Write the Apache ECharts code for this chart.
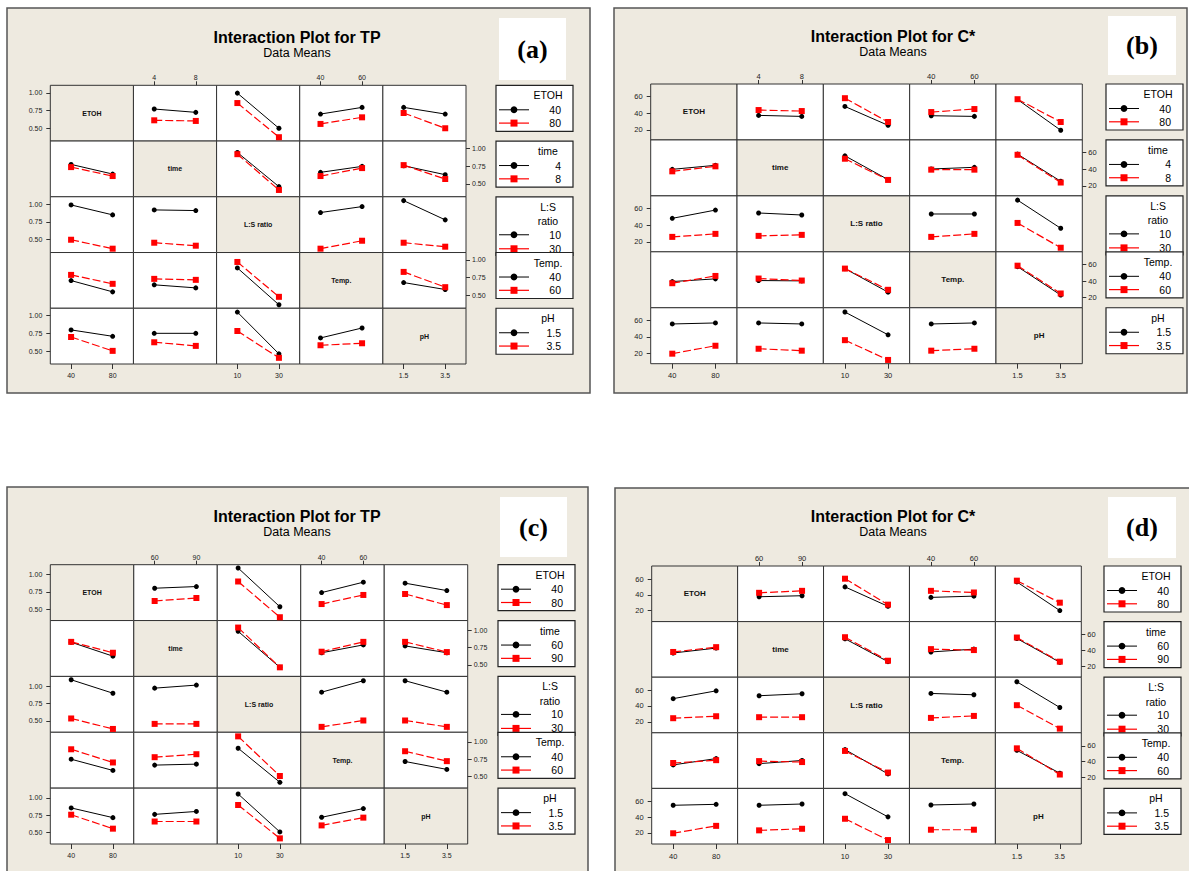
<!DOCTYPE html>
<html><head><meta charset="utf-8">
<script src="https://cdn.jsdelivr.net/npm/echarts@6/dist/echarts.min.js"></script>
<style>html,body{margin:0;padding:0;background:#fff}#c{width:1189px;height:871px}</style>
</head><body><div id="c"></div>
<script>
// ---------- factors, levels, ticks ----------
const factorNames = ['ETOH', 'time', 'L:S ratio', 'Temp.', 'pH'];
const legendTitles = [['ETOH'], ['time'], ['L:S', 'ratio'], ['Temp.'], ['pH']];
const levelsEtoh = ['40', '80'];
const levelsTimeAB = ['4', '8'];
const levelsTimeCD = ['60', '90'];
const levelsLS = ['10', '30'];
const levelsTemp = ['40', '60'];
const levelsPH = ['1.5', '3.5'];
const ticksTP = [0.5, 0.75, 1.0];
const ticksC = [20, 40, 60];

// ---------- data: each row = trace factor; entries follow column order (diagonal skipped)
// each entry: [[black level1 @x1, @x2], [red level2 @x1, @x2]]
// (a) TP, time 4/8
const A_ETOH = [[[0.771, 0.724], [0.612, 0.603]], [[0.995, 0.500], [0.855, 0.374]], [[0.700, 0.794], [0.561, 0.654]], [[0.794, 0.700], [0.715, 0.500]]];
const A_time = [[[0.776, 0.640], [0.738, 0.612]], [[0.944, 0.463], [0.920, 0.416]], [[0.664, 0.748], [0.612, 0.724]], [[0.757, 0.631], [0.766, 0.570]]];
const A_LS   = [[[0.990, 0.850], [0.500, 0.374]], [[0.920, 0.911], [0.458, 0.416]], [[0.883, 0.967], [0.374, 0.486]], [[1.051, 0.780], [0.458, 0.402]]];
const A_Temp = [[[0.710, 0.551], [0.790, 0.664]], [[0.650, 0.607], [0.734, 0.720]], [[0.888, 0.369], [0.972, 0.481]], [[0.682, 0.584], [0.832, 0.617]]];
const A_pH   = [[[0.800, 0.710], [0.700, 0.505]], [[0.752, 0.752], [0.626, 0.575]], [[1.051, 0.463], [0.785, 0.407]], [[0.687, 0.827], [0.584, 0.612]]];
// (b) C*, time 4/8
const B_ETOH = [[[37.4, 36.2], [43.8, 42.6]], [[48.1, 25.5], [58.0, 29.5]], [[37.0, 36.2], [41.4, 45.0]], [[56.4, 19.6], [56.8, 29.5]]];
const B_time = [[[39.8, 44.6], [37.4, 43.4]], [[56.0, 27.5], [52.5, 27.1]], [[40.2, 42.2], [39.4, 39.4]], [[58.0, 25.5], [57.2, 24.0]]];
const B_LS   = [[[48.1, 58.0], [25.9, 29.5]], [[54.5, 52.1], [27.1, 28.3]], [[53.3, 53.3], [25.9, 29.5]], [[69.9, 36.2], [42.6, 12.9]]];
const B_Temp = [[[39.4, 42.6], [37.4, 46.1]], [[40.6, 40.2], [43.0, 40.6]], [[54.9, 26.7], [54.9, 29.5]], [[57.2, 23.2], [58.4, 25.1]]];
const B_pH   = [[[55.6, 56.8], [20.0, 29.5]], [[56.8, 55.6], [25.9, 23.6]], [[69.9, 42.6], [36.2, 12.5]], [[55.6, 56.8], [23.6, 25.9]]];
// (c) TP, time 60/90
const C_ETOH = [[[0.801, 0.825], [0.617, 0.660]], [[1.092, 0.534], [0.898, 0.383]], [[0.738, 0.888], [0.573, 0.704]], [[0.874, 0.767], [0.718, 0.558]]];
const C_time = [[[0.828, 0.627], [0.833, 0.676]], [[0.985, 0.466], [1.039, 0.466]], [[0.676, 0.789], [0.691, 0.833]], [[0.775, 0.676], [0.833, 0.686]]];
const C_LS   = [[[1.092, 0.898], [0.534, 0.383]], [[0.971, 1.015], [0.456, 0.456]], [[0.913, 1.078], [0.413, 0.505]], [[1.078, 0.913], [0.505, 0.413]]];
const C_Temp = [[[0.752, 0.590], [0.895, 0.705]], [[0.667, 0.681], [0.781, 0.824]], [[0.910, 0.419], [1.081, 0.510]], [[0.719, 0.605], [0.867, 0.724]]];
const C_pH   = [[[0.855, 0.715], [0.757, 0.556]], [[0.762, 0.804], [0.659, 0.659]], [[1.056, 0.509], [0.897, 0.416]], [[0.720, 0.846], [0.603, 0.715]]];
// (d) C*, time 60/90
const D_ETOH = [[[37.5, 38.8], [42.5, 45.0]], [[50.0, 25.4], [60.4, 27.5]], [[36.7, 38.3], [45.0, 42.9]], [[56.3, 20.0], [57.9, 30.0]]];
const D_time = [[[36.7, 42.9], [38.0, 44.1]], [[54.7, 25.7], [56.7, 26.9]], [[38.0, 41.6], [41.6, 40.4]], [[55.1, 24.9], [56.3, 25.7]]];
const D_LS   = [[[49.3, 59.2], [24.5, 27.0]], [[53.0, 55.5], [25.8, 25.8]], [[55.9, 54.2], [24.9, 27.4]], [[70.7, 38.1], [41.0, 11.3]]];
const D_Temp = [[[35.8, 43.8], [38.2, 41.8]], [[37.4, 41.4], [40.6, 39.4]], [[55.2, 24.4], [53.5, 26.1]], [[54.3, 25.3], [56.8, 23.6]]];
const D_pH   = [[[55.1, 56.3], [19.6, 29.0]], [[55.1, 56.7], [23.3, 25.3]], [[69.8, 40.4], [38.0, 11.0]], [[55.5, 56.7], [24.1, 24.1]]];

// ---------- layout ----------
const BEIGE = '#EEEAE0';
const FONT = '"Liberation Sans", Arial, sans-serif';
const panels = [
  { title: 'Interaction Plot for TP', tag: '(a)', rows: [A_ETOH, A_time, A_LS, A_Temp, A_pH],
    levels: [levelsEtoh, levelsTimeAB, levelsLS, levelsTemp, levelsPH],
    yMin: 0.32, yMax: 1.105, ticks: ticksTP, fmt: v => v.toFixed(2),
    frame: [7, 8, 583, 385], grid: [50.3, 85.3, 466, 364], tx: 297, ty: 37, sy: 53,
    tagBox: [499, 18, 67, 62], lx: 496, axisFont: 7, diagFont: 7 },
  { title: 'Interaction Plot for C*', tag: '(b)', rows: [B_ETOH, B_time, B_LS, B_Temp, B_pH],
    levels: [levelsEtoh, levelsTimeAB, levelsLS, levelsTemp, levelsPH],
    yMin: 8, yMax: 75, ticks: ticksC, fmt: v => String(v),
    frame: [614, 8, 573, 385], grid: [650.7, 84, 1082.3, 363.7], tx: 893, ty: 36, sy: 52,
    tagBox: [1108, 16, 68, 59], lx: 1106, axisFont: 7.5, diagFont: 8 },
  { title: 'Interaction Plot for TP', tag: '(c)', rows: [C_ETOH, C_time, C_LS, C_Temp, C_pH],
    levels: [levelsEtoh, levelsTimeCD, levelsLS, levelsTemp, levelsPH],
    yMin: 0.335, yMax: 1.14, ticks: ticksTP, fmt: v => v.toFixed(2),
    frame: [7, 487, 581, 400], grid: [50.3, 564.7, 467.7, 844], tx: 297, ty: 516, sy: 532,
    tagBox: [500, 497, 67, 60], lx: 498, axisFont: 7, diagFont: 7 },
  { title: 'Interaction Plot for C*', tag: '(d)', rows: [D_ETOH, D_time, D_LS, D_Temp, D_pH],
    levels: [levelsEtoh, levelsTimeCD, levelsLS, levelsTemp, levelsPH],
    yMin: 6, yMax: 76.5, ticks: ticksC, fmt: v => String(v),
    frame: [615, 488, 580, 400], grid: [651.7, 566, 1081.3, 844], tx: 893, ty: 516, sy: 532,
    tagBox: [1108, 497, 68, 61], lx: 1104, axisFont: 7.5, diagFont: 8 }
];

const grids = [], xAxes = [], yAxes = [], series = [], graphics = [];
function txt(x, y, text, font, align, z, fill) {
  return { type: 'text', x: x, y: y, z: z || 5, silent: true,
    style: { text: text, font: font, fill: fill || '#000', align: align || 'center', verticalAlign: 'middle',
             textAlign: align || 'center', textVerticalAlign: 'middle' } };
}

panels.forEach(p => {
  const [fx, fy, fw, fh] = p.frame;
  graphics.push({ type: 'rect', z: -10, silent: true, shape: { x: fx, y: fy, width: fw, height: fh },
    style: { fill: BEIGE, stroke: '#555', lineWidth: 1.5 } });
  graphics.push(txt(p.tx, p.ty, p.title, 'bold 16px ' + FONT, 'center', 5));
  graphics.push(txt(p.tx, p.sy, 'Data Means', '12.5px ' + FONT, 'center', 5));
  const [bx, by, bw, bh] = p.tagBox;
  graphics.push({ type: 'rect', z: 4, silent: true, shape: { x: bx, y: by, width: bw, height: bh }, style: { fill: '#fff' } });
  graphics.push(txt(bx + bw / 2, by + bh / 2, p.tag, 'bold 26px "Liberation Serif", "Times New Roman", serif', 'center', 5));

  const [gx0, gy0, gx1, gy1] = p.grid;
  const cw = (gx1 - gx0) / 5, ch = (gy1 - gy0) / 5;
  for (let i = 0; i < 5; i++) {
    for (let j = 0; j < 5; j++) {
      const k = grids.length;
      const diag = i === j;
      const left = gx0 + j * cw, top = gy0 + i * ch;
      grids.push({ left: left, top: top, width: cw, height: ch, show: true,
        backgroundColor: diag ? BEIGE : '#fff', borderColor: '#333', borderWidth: 1,
        containLabel: false, outerBoundsMode: 'none' });
      const showX = (j % 2 === 0 && i === 4) || (j % 2 === 1 && i === 0);
      const xTop = j % 2 === 1;
      xAxes.push({ gridIndex: k, type: 'category', data: p.levels[j], boundaryGap: true,
        position: xTop ? 'top' : 'bottom',
        axisLine: { show: false },
        axisTick: { show: showX, alignWithLabel: true, length: xTop ? 4 : 5, lineStyle: { color: '#333', width: 1 } },
        axisLabel: { show: showX, fontSize: p.axisFont, color: '#222', fontFamily: FONT, margin: xTop ? 4 : 8 },
        splitLine: { show: false } });
      const showY = (i % 2 === 0 && j === 0) || (i % 2 === 1 && j === 4);
      const yRight = i % 2 === 1;
      yAxes.push({ gridIndex: k, type: 'value', min: p.yMin, max: p.yMax,
        position: yRight ? 'right' : 'left',
        axisLine: { show: false },
        axisTick: { show: showY, length: 4, customValues: p.ticks, lineStyle: { color: '#333', width: 1 } },
        axisLabel: { show: showY, customValues: p.ticks, formatter: p.fmt, fontSize: p.axisFont,
          color: '#222', fontFamily: FONT, margin: yRight ? 6 : 8 },
        splitLine: { show: false } });
      if (diag) {
        graphics.push(txt(left + cw / 2, top + ch / 2, factorNames[i], 'bold ' + p.diagFont + 'px ' + FONT, 'center', 5, '#111'));
        continue;
      }
      const cell = p.rows[i][j < i ? j : j - 1];
      series.push({ type: 'line', xAxisIndex: k, yAxisIndex: k, data: cell[0], z: 3,
        symbol: 'circle', symbolSize: 5, itemStyle: { color: '#000' },
        lineStyle: { color: '#000', width: 1 }, silent: true, animation: false });
      series.push({ type: 'line', xAxisIndex: k, yAxisIndex: k, data: cell[1], z: 4,
        symbol: 'rect', symbolSize: 6, itemStyle: { color: '#FF0000' },
        lineStyle: { color: '#FF0000', width: 1.2, type: [8, 3] }, silent: true, animation: false });
    }
  }

  // legends (one box per factor, aligned with the matrix rows)
  for (let i = 0; i < 5; i++) {
    const t = gy0 + i * ch, l = p.lx, w = 77;
    const zb = 10 + i * 3;
    const twoLine = legendTitles[i].length === 2;
    const h = i === 2 ? ch + 3 : 46;
    graphics.push({ type: 'rect', z: zb, silent: true, shape: { x: l, y: t, width: w, height: h },
      style: { fill: '#fff', stroke: '#222', lineWidth: 1.2 } });
    legendTitles[i].forEach((s, n) => graphics.push(txt(l + 52, t + 10 + n * 14.5, s, '10.5px ' + FONT, 'center', zb + 1)));
    const r1 = twoLine ? t + 38 : t + 24.5, r2 = twoLine ? t + 52 : t + 37.8;
    graphics.push({ type: 'line', z: zb + 1, silent: true, shape: { x1: l + 3, y1: r1, x2: l + 33, y2: r1 }, style: { stroke: '#000', lineWidth: 1 } });
    graphics.push({ type: 'circle', z: zb + 2, silent: true, shape: { cx: l + 18, cy: r1, r: 3.4 }, style: { fill: '#000' } });
    graphics.push(txt(l + 65, r1, p.levels[i][0], '10.5px ' + FONT, 'right', zb + 1));
    graphics.push({ type: 'line', z: zb + 1, silent: true, shape: { x1: l + 3, y1: r2, x2: l + 33, y2: r2 }, style: { stroke: '#FF0000', lineWidth: 1.2 } });
    graphics.push({ type: 'rect', z: zb + 2, silent: true, shape: { x: l + 14.5, y: r2 - 3.5, width: 7, height: 7 }, style: { fill: '#FF0000' } });
    graphics.push(txt(l + 65, r2, p.levels[i][1], '10.5px ' + FONT, 'right', zb + 1));
  }
});

const chart = echarts.init(document.getElementById('c'), null, { renderer: 'svg', width: 1189, height: 871 });
chart.setOption({
  backgroundColor: '#fff',
  animation: false,
  grid: grids,
  xAxis: xAxes,
  yAxis: yAxes,
  series: series,
  graphic: { elements: graphics }
});
</script>
</body></html>
